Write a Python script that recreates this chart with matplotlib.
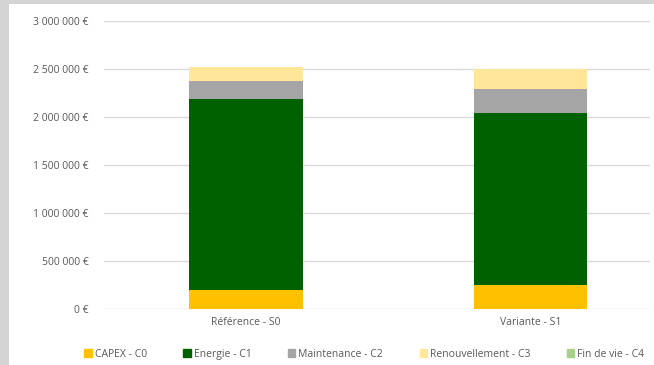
import matplotlib.pyplot as plt
import matplotlib.patches as mpatches
import numpy as np

plt.rcParams['font.family'] = ['Open Sans', 'DejaVu Sans']

scenarios = ["Référence - S0", "Variante - S1"]
series = ["CAPEX - C0", "Energie - C1", "Maintenance - C2", "Renouvellement - C3", "Fin de vie - C4"]
capex = [200000, 250000]
energie = [1990000, 1790000]
maintenance = [185000, 250000]
renouvellement = [145000, 210000]
fin_de_vie = [0, 0]
colors = ["#ffc000", "#006100", "#a5a5a5", "#ffe699", "#a9d18e"]
yticks = [0, 500000, 1000000, 1500000, 2000000, 2500000, 3000000]


def euro(v):
    return "{:,} €".format(int(v)).replace(",", " ")


fig = plt.figure(figsize=(6.54, 3.65), dpi=100)
fig.patch.set_facecolor("#d4d4d4")
fig.add_artist(mpatches.Rectangle((9 / 654, 0), 1, 1 - 4 / 365,
                                  transform=fig.transFigure, facecolor="white",
                                  edgecolor="none", zorder=0))

ax = fig.add_axes([104 / 654, 1 - 309 / 365, 546 / 654, 288 / 365])
ax.set_facecolor("none")

x = np.arange(len(scenarios))
bottom = np.zeros(len(scenarios))
for name, vals, c in zip(series, [capex, energie, maintenance, renouvellement, fin_de_vie], colors):
    ax.bar(x, vals, 0.4, bottom=bottom, color=c, label=name, zorder=3)
    bottom += np.array(vals)

ax.set_ylim(0, 3000000)
ax.set_xlim(-0.5, 1.42)
ax.set_yticks(yticks)
ax.set_yticklabels([euro(v) for v in yticks])
ax.set_xticks(x)
ax.set_xticklabels(scenarios)
ax.grid(axis="y", color="#d9d9d9", linewidth=1, zorder=0)
for s in ax.spines.values():
    s.set_visible(False)
ax.tick_params(axis="both", length=0, labelsize=7.5, colors="#595959")
ax.tick_params(axis="y", pad=11)
ax.tick_params(axis="x", pad=6)

handles = [mpatches.Patch(color=c) for c in colors]
fig.legend(handles, series, loc="center", bbox_to_anchor=(0.557, 0.03), ncol=5,
           frameon=False, fontsize=7.5, handlelength=0.7, handleheight=0.7,
           handletextpad=0.3, columnspacing=3.5, labelcolor="#595959")

fig.savefig("out.png", dpi=100)
